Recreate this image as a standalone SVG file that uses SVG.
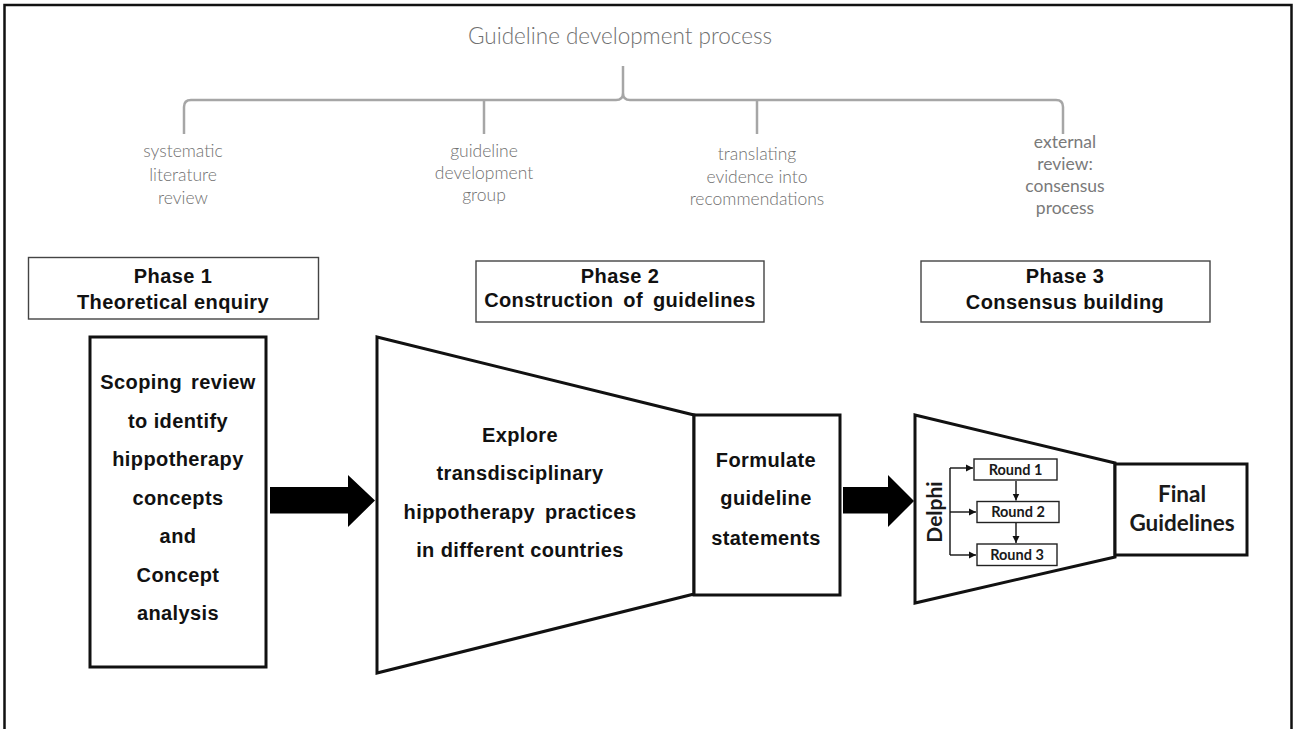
<svg xmlns="http://www.w3.org/2000/svg" width="1293" height="729" viewBox="0 0 1293 729">
<style>
.frame{fill:none;stroke:#111;stroke-width:2.5}
.brace{fill:none;stroke:#a6a6a6;stroke-width:2.5}
.glabel{font-family:Lato,"Open Sans",sans-serif;font-weight:300;font-size:17.5px;fill:#707070;text-anchor:middle}
.ext{font-weight:400;font-size:17.5px;fill:#7a7a7a}
.title{font-family:Lato,"Open Sans",sans-serif;font-weight:300;font-size:22.5px;fill:#707070;text-anchor:middle}
.phase{fill:#fff;stroke:#444;stroke-width:1.4}
.thick{fill:#fff;stroke:#111;stroke-width:3}
.bt{font-family:"Liberation Sans",Arial,sans-serif;font-weight:bold;font-size:20px;letter-spacing:0.4px;fill:#111;text-anchor:middle}
.cb{font-family:Lato,"Open Sans",sans-serif;font-weight:bold;fill:#1a1a1a;text-anchor:middle}
.rbox{fill:#fff;stroke:#222;stroke-width:1.4}
.conn{fill:none;stroke:#111;stroke-width:1.4}
.big{fill:#000}
</style>
<defs>
<marker id="ah" markerWidth="8" markerHeight="8" refX="7" refY="4" orient="auto" markerUnits="userSpaceOnUse">
<path d="M0,0.5 L7,4 L0,7.5 Z" fill="#111"/>
</marker>
</defs>
<rect width="1293" height="729" fill="#fff"/>
<g id="frame">
<path class="frame" d="M4.5,729 L4.5,5 L1291.5,5 L1291.5,729"/>
</g>
<g id="title">
<text class="title" x="620" y="44">Guideline development process</text>
</g>
<g id="brace">
<path class="brace" d="M184,134 L184,107 Q184,100 191,100 L616,100 Q623,100 623,93 L623,66 M623,93 Q623,100 630,100 L1056,100 Q1063,100 1063,107 L1063,134 M484,100 L484,134 M757,100 L757,134"/>
</g>
<g id="label-systematic">
<text class="glabel" x="183" y="157">systematic</text>
<text class="glabel" x="183" y="180.5">literature</text>
<text class="glabel" x="183" y="203.5">review</text>
</g>
<g id="label-group">
<text class="glabel" x="484" y="157">guideline</text>
<text class="glabel" x="484" y="179">development</text>
<text class="glabel" x="484" y="200.5">group</text>
</g>
<g id="label-translating">
<text class="glabel" x="757" y="160">translating</text>
<text class="glabel" x="757" y="182.5">evidence into</text>
<text class="glabel" x="757" y="204.5">recommendations</text>
</g>
<g id="label-external">
<text class="glabel ext" x="1065" y="147.5">external</text>
<text class="glabel ext" x="1065" y="169.5">review:</text>
<text class="glabel ext" x="1065" y="191.5">consensus</text>
<text class="glabel ext" x="1065" y="213.5">process</text>
</g>
<g id="phase1">
<rect class="phase" x="28.5" y="257.5" width="290" height="61.5"/>
<text class="bt" x="173" y="283">Phase 1</text>
<text class="bt" x="173" y="308.5">Theoretical enquiry</text>
</g>
<g id="phase2">
<rect class="phase" x="476" y="261" width="288" height="61"/>
<text class="bt" x="620" y="283">Phase 2</text>
<text class="bt" x="620" y="307" word-spacing="4">Construction of guidelines</text>
</g>
<g id="phase3">
<rect class="phase" x="921" y="261" width="289" height="61"/>
<text class="bt" x="1065" y="283">Phase 3</text>
<text class="bt" x="1065" y="309">Consensus building</text>
</g>
<g id="scoping">
<rect class="thick" x="90" y="337" width="176" height="330"/>
<text class="bt" x="178" y="389" word-spacing="3">Scoping review</text>
<text class="bt" x="178" y="427.5">to identify</text>
<text class="bt" x="178" y="466">hippotherapy</text>
<text class="bt" x="178" y="504.5">concepts</text>
<text class="bt" x="178" y="543">and</text>
<text class="bt" x="178" y="581.5">Concept</text>
<text class="bt" x="178" y="620">analysis</text>
</g>
<g id="explore">
<path class="thick" d="M377,337 L694,415 L694,594 L377,673 Z"/>
<text class="bt" x="520" y="442">Explore</text>
<text class="bt" x="520" y="480">transdisciplinary</text>
<text class="bt" x="520" y="518.5" word-spacing="4">hippotherapy practices</text>
<text class="bt" x="520" y="557">in different countries</text>
</g>
<g id="formulate">
<rect class="thick" x="694" y="415" width="146" height="180"/>
<text class="bt" x="766" y="467">Formulate</text>
<text class="bt" x="766" y="505">guideline</text>
<text class="bt" x="766" y="545">statements</text>
</g>
<g id="delphi">
<path class="thick" d="M915,415 L1115,463 L1115,557 L915,603 Z"/>
<text class="cb" font-size="21" transform="translate(942,512) rotate(-90)">Delphi</text>
</g>
<g id="round1">
<rect class="rbox" x="974" y="459" width="83" height="21"/>
<text class="cb" font-size="14.5" x="1015.5" y="475">Round 1</text>
</g>
<g id="round2">
<rect class="rbox" x="977" y="501.5" width="82" height="21"/>
<text class="cb" font-size="14.5" x="1018" y="517">Round 2</text>
</g>
<g id="round3">
<rect class="rbox" x="977" y="544" width="80" height="21.5"/>
<text class="cb" font-size="14.5" x="1017" y="560">Round 3</text>
</g>
<g id="final">
<rect class="thick" x="1115" y="464" width="132" height="91"/>
<text class="cb" font-size="22.5" x="1182" y="502">Final</text>
<text class="cb" font-size="22.5" x="1182" y="531">Guidelines</text>
</g>
<g id="connectors">
<path class="big" d="M270,487 L348,487 L348,475 L375,500.5 L348,527 L348,513.5 L270,513.5 Z"/>
<path class="big" d="M843,487 L888,487 L888,475 L914,501 L888,527 L888,513.5 L843,513.5 Z"/>
<path class="conn" d="M950,468 L950,555"/>
<path class="conn" d="M950,468 L973,468" marker-end="url(#ah)"/>
<path class="conn" d="M950,512 L976,512" marker-end="url(#ah)"/>
<path class="conn" d="M950,555 L976,555" marker-end="url(#ah)"/>
<path class="conn" d="M1016,481 L1016,500.5" marker-end="url(#ah)"/>
<path class="conn" d="M1016,523 L1016,543" marker-end="url(#ah)"/>
</g>
</svg>
